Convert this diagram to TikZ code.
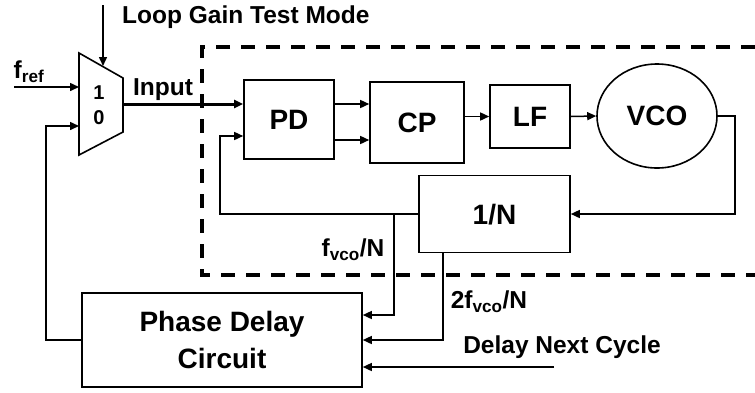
\documentclass[tikz,border=0pt]{standalone}
\usepackage{fontspec}
\setmainfont{Liberation Sans}
\usetikzlibrary{
  arrows.meta,
  calc,
  positioning,
  shapes.geometric
}
\tikzset{
  lbl/.style={ font=\fontsize{24.5}{26}\selectfont\bfseries, inner sep=0pt },
  digit/.style={ font=\fontsize{20}{21}\selectfont\bfseries, inner sep=0pt },
  blk/.style={
    draw,
    line width=1.6pt,
    align=center,
    inner sep=0pt,
    text depth=0pt,
    font=\fontsize{28}{37}\selectfont\bfseries
  },
  arrow/.style={
    -{Triangle[length=9pt,width=8pt]},
    line width=1.5pt
  },
  frame/.style={
    line width=3.5pt,
    dash pattern=on 14pt off 11pt
  }
}

\begin{document}
\begin{tikzpicture}[x=1pt, y=-1pt]
  \useasboundingbox (0,0) rectangle (755,392);

  % loop boundary
  \draw[frame] (755,47) -- (202,47) -- (202,275) -- (755,275);

  % blocks
  \node[blk, minimum width=90pt, minimum height=79pt] (pd) at (289,119.5) {PD};
  \node[blk, minimum width=94pt, minimum height=81pt] (cp) at (417,122.5) {CP};
  \node[blk, minimum width=80pt, minimum height=63pt] (lf) at (530,116.5) {LF};
  \node[blk, ellipse, minimum width=120pt, minimum height=104pt] (vco) at (657,116) {VCO};
  \node[blk, minimum width=151pt, minimum height=77pt] (divn) at (494.5,214) {1/N};
  \node[blk, minimum width=280pt, minimum height=94pt] (pdc) at (222,340) {Phase Delay\\Circuit};

  % mux
  \draw[line width=1.6pt] (79,53) -- (123,78) -- (123,132) -- (79,155) -- cycle;
  \coordinate (mux-out) at (123,104);
  \coordinate (mux-in1) at (79,87);
  \coordinate (mux-in0) at (79,126);
  \coordinate (mux-sel) at (103,66);
  \node[digit] (one) at (99,93) {1};
  \node[digit] (zero) at (99,118) {0};

  % pins
  \coordinate (fref) at (14,87);
  \coordinate (mode) at (103,5);
  \coordinate (pd-in2) at ($(pd.west)+(0,16.5)$);
  \coordinate (pd-dn) at ($(pd.east)+(0,20.5)$);
  \coordinate (tap1) at ($(divn.west)+(-24,0)$);
  \coordinate (tap2) at ($(divn.south)+(-51.5,0)$);
  \coordinate (pdc-in1) at ($(pdc.east)+(0,-25)$);
  \coordinate (pdc-in3) at ($(pdc.east)+(0,27)$);
  \coordinate (dnc) at (554,367);

  % connectors
  \draw[arrow] (fref) -- (mux-in1);
  \draw[arrow] (mode) -- (mux-sel);
  \draw[arrow, line width=3pt] (mux-out) -- (pd.west |- mux-out);
  \draw[arrow] (pd.east |- mux-out) -- (cp.west |- mux-out);
  \draw[arrow] (pd-dn) -- (pd-dn -| cp.west);
  \draw[arrow] (cp.east |- lf.west) -- (lf.west);
  \draw[arrow] (lf.east) -- (vco.west);
  \draw[arrow] (vco.east) -- ++(17,0) |- (divn.east);
  \draw[arrow] (divn.west) -- ++(-198,0) |- (pd-in2);
  \draw[arrow] (tap1) |- (pdc-in1);
  \draw[arrow] (tap2) |- (pdc.east);
  \draw[arrow] (dnc) -- (pdc-in3);
  \draw[arrow] (pdc.west) -- ++(-35,0) |- (mux-in0);

  % labels
  \node[lbl, anchor=west] (lgtm) at (122,17) {Loop Gain Test Mode};
  \node[lbl] (frefl) at (29,72) {f\textsubscript{ref}};
  \node[lbl] (inl) at (163,90) {Input};
  \node[lbl] (fvcol) at (353,250) {f\textsubscript{vco}/N};
  \node[lbl] (f2l) at (489,302) {2f\textsubscript{vco}/N};
  \node[lbl] (dncl) at (562,347) {Delay Next Cycle};
\end{tikzpicture}
\end{document}
